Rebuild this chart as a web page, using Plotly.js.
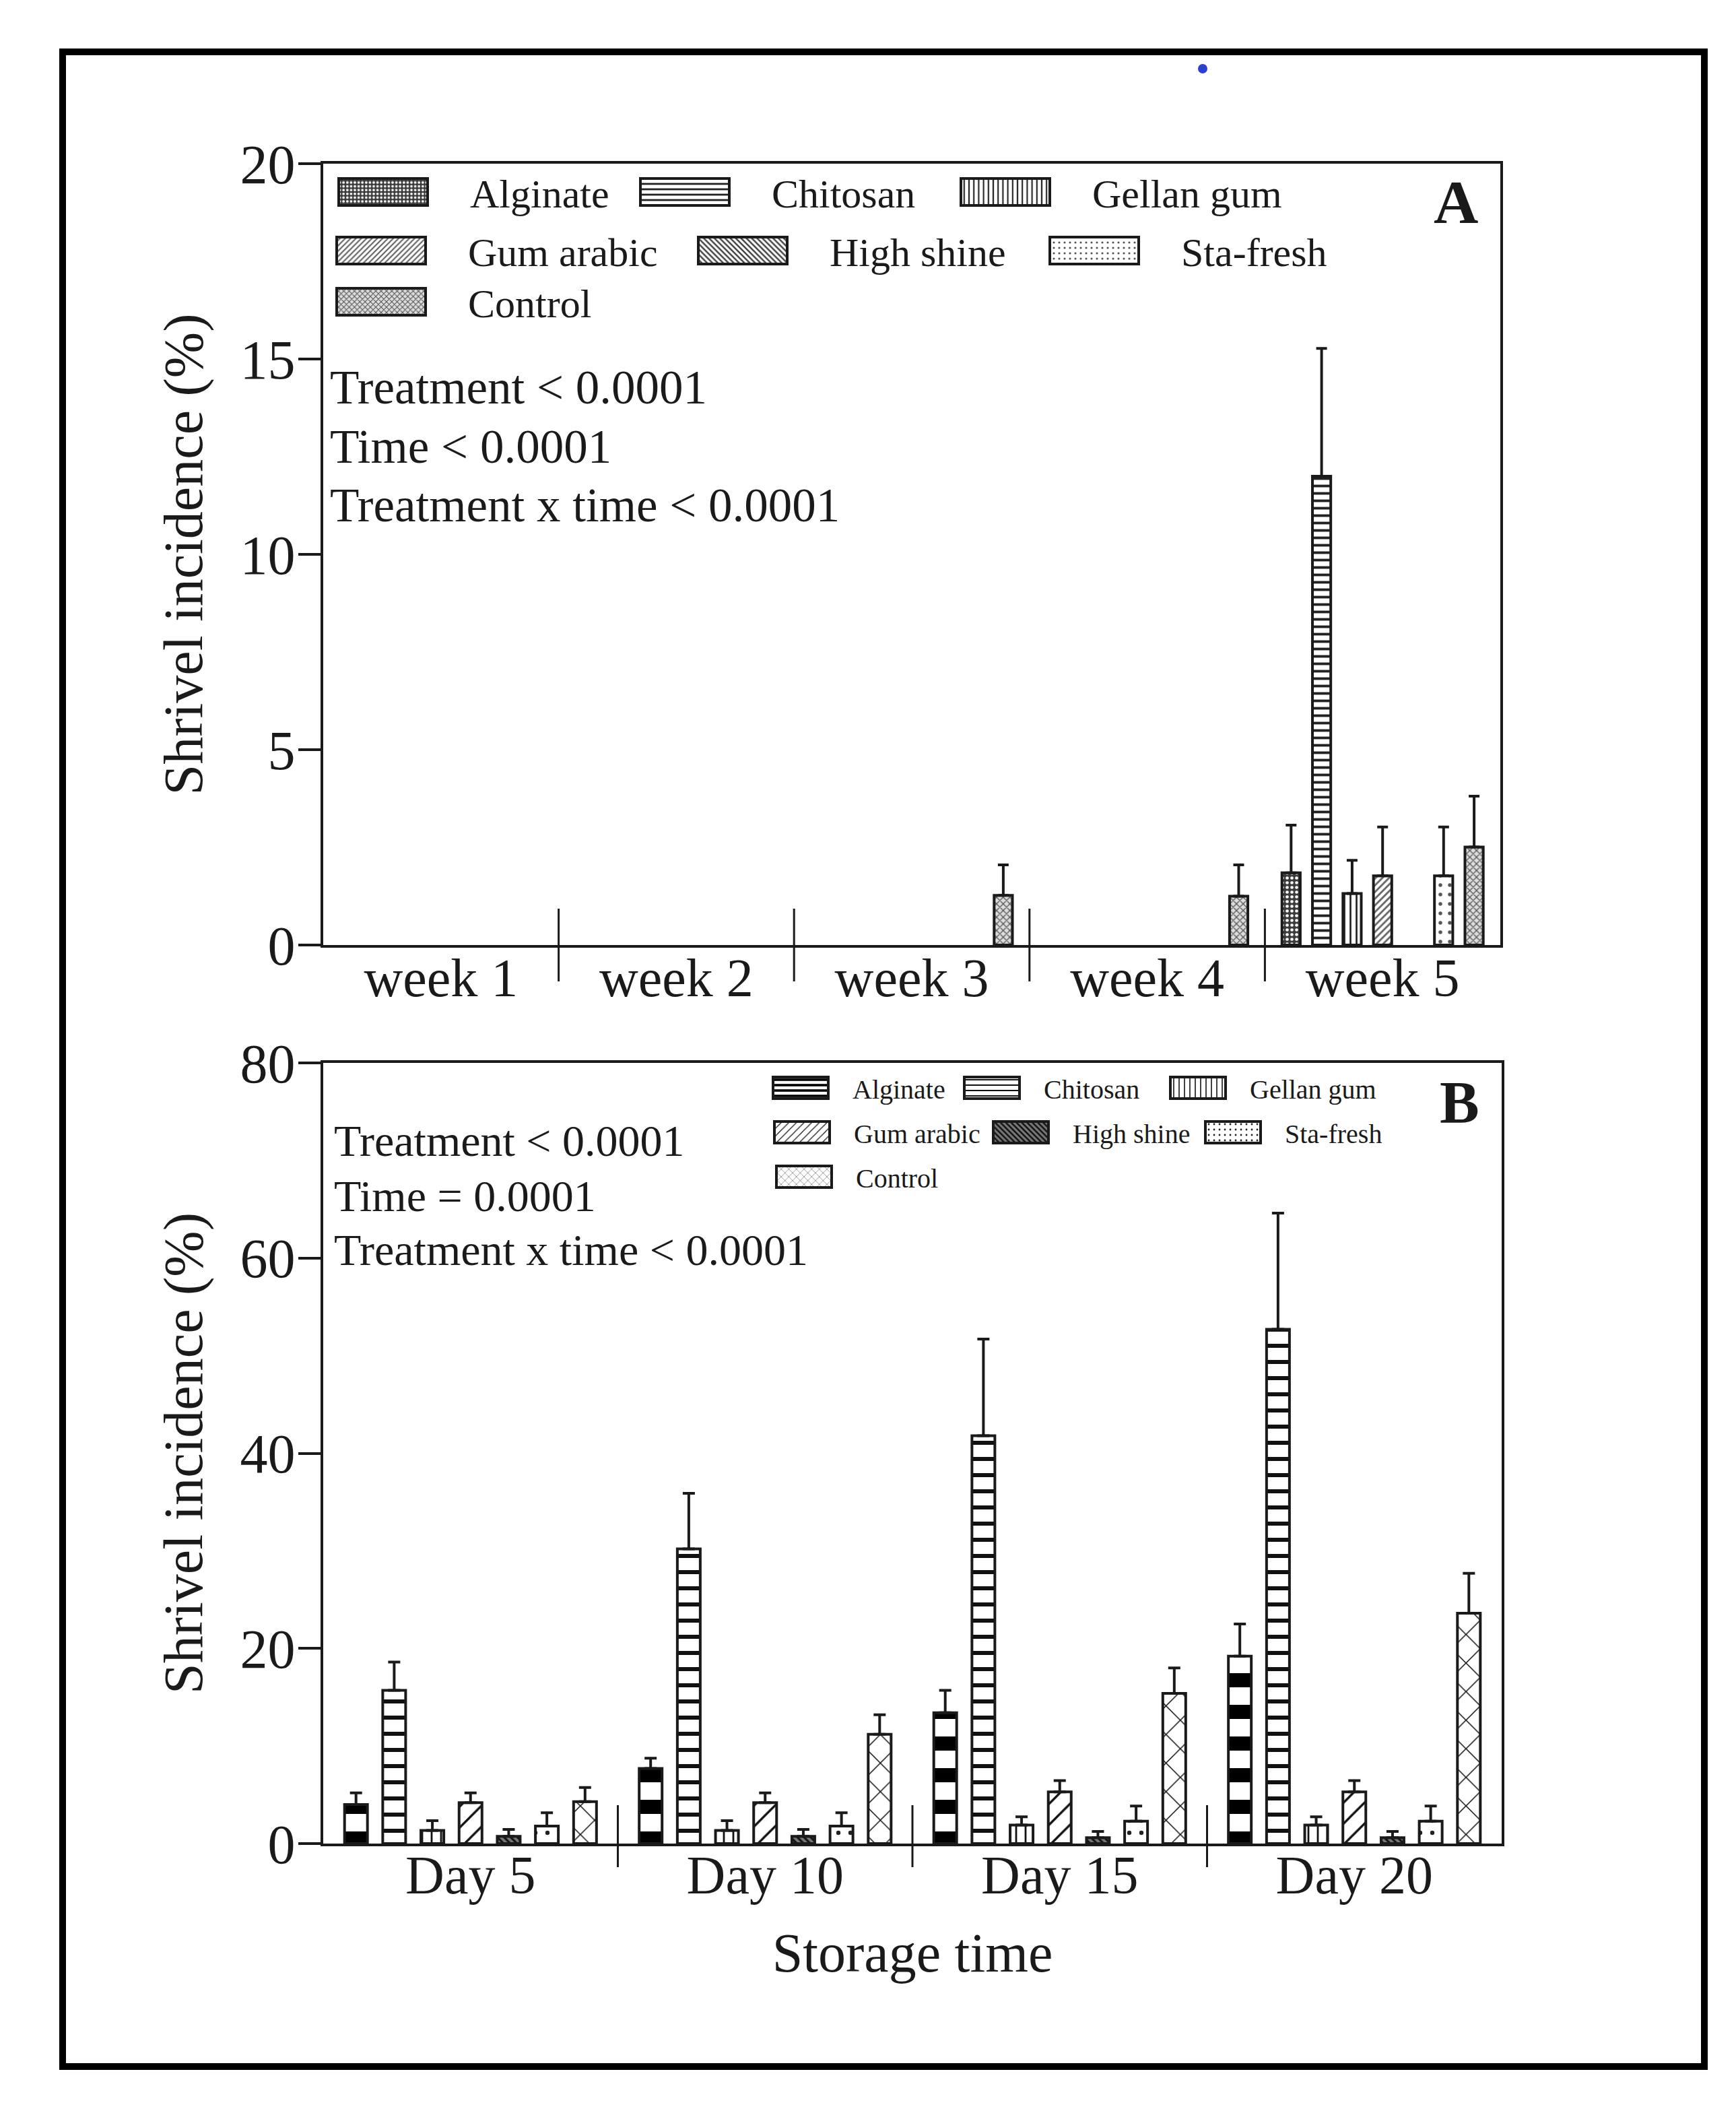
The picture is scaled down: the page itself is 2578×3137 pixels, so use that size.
<!DOCTYPE html>
<html>
<head>
<meta charset="utf-8">
<script src="https://cdn.plot.ly/plotly-3.0.1.min.js"></script>
<style>
  html, body { margin: 0; padding: 0; background: #fff; }
  #chart { width: 2578px; height: 3137px; }
</style>
</head>
<body>
<div id="chart"></div>
<script>
// ---------------- DATA ----------------
const treatments = ['Alginate', 'Chitosan', 'Gellan gum', 'Gum arabic', 'High shine', 'Sta-fresh', 'Control'];

// Panel A (weeks)
const weeks = ['week 1', 'week 2', 'week 3', 'week 4', 'week 5'];
const alginateA   = [0, 0, 0, 0, 1.85];
const chitosanA   = [0, 0, 0, 0, 12.0];
const gellanA     = [0, 0, 0, 0, 1.32];
const gumArabicA  = [0, 0, 0, 0, 1.77];
const highShineA  = [0, 0, 0, 0, 0];
const staFreshA   = [0, 0, 0, 0, 1.77];
const controlA    = [0, 0, 1.27, 1.25, 2.51];
const alginateAErr  = [0, 0, 0, 0, 1.22];
const chitosanAErr  = [0, 0, 0, 0, 3.27];
const gellanAErr    = [0, 0, 0, 0, 0.85];
const gumArabicAErr = [0, 0, 0, 0, 1.25];
const highShineAErr = [0, 0, 0, 0, 0];
const staFreshAErr  = [0, 0, 0, 0, 1.25];
const controlAErr   = [0, 0, 0.78, 0.8, 1.3];

// Panel B (days)
const days = ['Day 5', 'Day 10', 'Day 15', 'Day 20'];
const alginateB   = [4.0, 7.7, 13.4, 19.2];
const chitosanB   = [15.7, 30.2, 41.8, 52.7];
const gellanB     = [1.35, 1.35, 1.9, 1.9];
const gumArabicB  = [4.2, 4.2, 5.3, 5.3];
const highShineB  = [0.75, 0.75, 0.6, 0.6];
const staFreshB   = [1.8, 1.8, 2.3, 2.3];
const controlB    = [4.3, 11.2, 15.4, 23.6];
const alginateBErr  = [1.2, 1.05, 2.3, 3.3];
const chitosanBErr  = [2.9, 5.7, 9.9, 11.9];
const gellanBErr    = [1.0, 1.0, 0.85, 0.85];
const gumArabicBErr = [1.0, 1.0, 1.15, 1.15];
const highShineBErr = [0.7, 0.7, 0.65, 0.65];
const staFreshBErr  = [1.35, 1.35, 1.55, 1.55];
const controlBErr   = [1.45, 2.0, 2.6, 4.1];

const statsA = ['Treatment &lt; 0.0001', 'Time &lt; 0.0001', 'Treatment x time &lt; 0.0001'];
const statsB = ['Treatment &lt; 0.0001', 'Time = 0.0001', 'Treatment x time &lt; 0.0001'];

// ---------------- STYLE / LAYOUT ----------------
const W = 2578, H = 3137;
const px = v => v / W;
const py = v => 1 - v / H;
const FONT = 'Liberation Serif, Times New Roman, serif';
const INK = '#1a1a1a';

const valsA = [alginateA, chitosanA, gellanA, gumArabicA, highShineA, staFreshA, controlA];
const errsA = [alginateAErr, chitosanAErr, gellanAErr, gumArabicAErr, highShineAErr, staFreshAErr, controlAErr];
const valsB = [alginateB, chitosanB, gellanB, gumArabicB, highShineB, staFreshB, controlB];
const errsB = [alginateBErr, chitosanBErr, gellanBErr, gumArabicBErr, highShineBErr, staFreshBErr, controlBErr];

const patA = [
  {shape: '.', size: 7, solidity: 0.35, fgcolor: '#ffffff', bgcolor: '#3a3a3a'},
  {shape: '-', size: 11, solidity: 0.35, fgcolor: '#222222', bgcolor: '#ffffff'},
  {shape: '|', size: 9, solidity: 0.3, fgcolor: '#222222', bgcolor: '#ffffff'},
  {shape: '/', size: 7, solidity: 0.4, fgcolor: '#666666', bgcolor: '#ffffff'},
  {shape: '\\', size: 7, solidity: 0.45, fgcolor: '#444444', bgcolor: '#ffffff'},
  {shape: '.', size: 14, solidity: 0.12, fgcolor: '#555555', bgcolor: '#ffffff'},
  {shape: 'x', size: 7, solidity: 0.35, fgcolor: '#555555', bgcolor: '#dddddd'}
];
const patB = [
  {shape: '-', size: 47, solidity: 0.45, fgcolor: '#000000', bgcolor: '#ffffff'},
  {shape: '-', size: 24, solidity: 0.25, fgcolor: '#111111', bgcolor: '#ffffff'},
  {shape: '|', size: 14, solidity: 0.2, fgcolor: '#111111', bgcolor: '#ffffff'},
  {shape: '/', size: 22, solidity: 0.15, fgcolor: '#111111', bgcolor: '#ffffff'},
  {shape: '\\', size: 7, solidity: 0.45, fgcolor: '#111111', bgcolor: '#777777'},
  {shape: '.', size: 18, solidity: 0.1, fgcolor: '#222222', bgcolor: '#ffffff'},
  {shape: 'x', size: 30, solidity: 0.1, fgcolor: '#111111', bgcolor: '#ffffff'}
];

// legend item placement (text left edge, row centre) in page px
const legPosA = [[698, 285], [1146, 285], [1622, 285], [695, 372], [1232, 372], [1754, 372], [695, 448]];
const legPosB = [[1266, 1615], [1550, 1615], [1856, 1615], [1268, 1681], [1593, 1681], [1908, 1681], [1271, 1747]];
const IWA = 248, IWB = 144;

const data = [];
const legends = {};
treatments.forEach((name, i) => {
  const idA = i === 0 ? 'legend' : 'legend' + (i + 1);
  const idB = 'legend' + (i + 8);
  // bars of height 0 are simply not drawn (as in the figure)
  data.push({
    type: 'bar', name: name, x: weeks, y: valsA[i].map(v => v > 0 ? v : null), xaxis: 'x', yaxis: 'y',
    legend: idA, showlegend: true,
    marker: {color: '#ffffff', line: {color: INK, width: 4}, pattern: patA[i]},
    error_y: {type: 'data', symmetric: false, array: errsA[i], arrayminus: weeks.map(() => 0),
              color: INK, thickness: 4, width: 8}
  });
  data.push({
    type: 'bar', name: name, x: days, y: valsB[i], xaxis: 'x2', yaxis: 'y2',
    legend: idB, showlegend: true,
    marker: {color: '#ffffff', line: {color: INK, width: 4}, pattern: patB[i]},
    error_y: {type: 'data', symmetric: false, array: errsB[i], arrayminus: days.map(() => 0),
              color: INK, thickness: 4, width: 9}
  });
  legends[idA] = {
    visible: true,
    x: px(legPosA[i][0] - IWA - 10), xanchor: 'left', y: py(legPosA[i][1]), yanchor: 'middle',
    itemwidth: IWA, font: {family: FONT, size: 60, color: INK}, bgcolor: 'rgba(0,0,0,0)', borderwidth: 0
  };
  legends[idB] = {
    visible: true,
    x: px(legPosB[i][0] - IWB - 10), xanchor: 'left', y: py(legPosB[i][1]), yanchor: 'middle',
    itemwidth: IWB, font: {family: FONT, size: 40, color: INK}, bgcolor: 'rgba(0,0,0,0)', borderwidth: 0
  };
});

const axisLine = {showline: true, linecolor: INK, linewidth: 4, mirror: true, showgrid: false, zeroline: false};

const annotations = [];
statsA.forEach((t, k) => annotations.push({
  xref: 'paper', yref: 'paper', x: px(488), y: py(575 + k * 87.5), xanchor: 'left', yanchor: 'middle',
  text: t, showarrow: false, font: {family: FONT, size: 71, color: INK}
}));
statsB.forEach((t, k) => annotations.push({
  xref: 'paper', yref: 'paper', x: px(494), y: py(1694 + k * 81), xanchor: 'left', yanchor: 'middle',
  text: t, showarrow: false, font: {family: FONT, size: 66, color: INK}
}));
annotations.push({xref: 'paper', yref: 'paper', x: px(2162), y: py(300), xanchor: 'center', yanchor: 'middle',
  text: '<b>A</b>', showarrow: false, font: {family: FONT, size: 92, color: INK}});
annotations.push({xref: 'paper', yref: 'paper', x: px(2167), y: py(1636), xanchor: 'center', yanchor: 'middle',
  text: '<b>B</b>', showarrow: false, font: {family: FONT, size: 88, color: INK}});

const shapes = [];
[0.5, 1.5, 2.5, 3.5].forEach(b => shapes.push({type: 'line', xref: 'x', yref: 'paper',
  x0: b, x1: b, y0: py(1457), y1: py(1349), line: {color: INK, width: 3}}));
[0.5, 1.5, 2.5].forEach(b => shapes.push({type: 'line', xref: 'x2', yref: 'paper',
  x0: b, x1: b, y0: py(2772), y1: py(2680), line: {color: INK, width: 3}}));
shapes.push({type: 'rect', xref: 'paper', yref: 'paper', x0: px(93), x1: px(2531), y0: py(3068), y1: py(77),
  line: {color: '#000000', width: 10}, fillcolor: 'rgba(0,0,0,0)'});
shapes.push({type: 'circle', xref: 'paper', yref: 'paper', x0: px(1779), x1: px(1793), y0: py(109), y1: py(95),
  line: {width: 0}, fillcolor: '#2b3fd4'});

const layout = Object.assign({
  width: W, height: H,
  margin: {l: 0, r: 0, t: 0, b: 0},
  showlegend: true,
  paper_bgcolor: '#ffffff', plot_bgcolor: '#ffffff',
  font: {family: FONT, color: INK},
  barmode: 'group', bargap: 0.093, bargroupgap: 0.4,
  xaxis: Object.assign({}, axisLine, {domain: [px(480), px(2228)], anchor: 'y', type: 'category',
    ticks: '', tickfont: {family: FONT, size: 80, color: INK}, ticklabelstandoff: -24}),
  yaxis: Object.assign({}, axisLine, {domain: [py(1403), py(243)], anchor: 'x', range: [0, 20],
    tickvals: [0, 5, 10, 15, 20], ticks: 'outside', ticklen: 33, tickwidth: 4, tickcolor: INK,
    tickfont: {family: FONT, size: 82, color: INK}, ticklabelstandoff: -12,
    title: {text: 'Shrivel incidence (%)', font: {family: FONT, size: 82, color: INK}, standoff: 30}}),
  xaxis2: Object.assign({}, axisLine, {domain: [px(480), px(2230)], anchor: 'y2', type: 'category',
    ticks: '', tickfont: {family: FONT, size: 80, color: INK}, ticklabelstandoff: -26,
    title: {text: 'Storage time', font: {family: FONT, size: 82, color: INK}, standoff: 44}}),
  yaxis2: Object.assign({}, axisLine, {domain: [py(2737), py(1578)], anchor: 'x2', range: [0, 80],
    tickvals: [0, 20, 40, 60, 80], ticks: 'outside', ticklen: 33, tickwidth: 4, tickcolor: INK,
    tickfont: {family: FONT, size: 82, color: INK}, ticklabelstandoff: -12,
    title: {text: 'Shrivel incidence (%)', font: {family: FONT, size: 82, color: INK}, standoff: 30}}),
  annotations: annotations,
  shapes: shapes
}, legends);

// enlarge the legend swatches to the size used in the figure
function fixSwatches() {
  document.querySelectorAll('g.legendpoints path').forEach(p => {
    if (!p.dataset.panel) {
      const r = p.getBoundingClientRect();
      p.dataset.panel = (r.top + r.height / 2) < 1500 ? 'A' : 'B';
    }
    p.setAttribute('d', p.dataset.panel === 'A' ? 'M66,20H-66V-20H66Z' : 'M41,16H-41V-16H41Z');
  });
}

Plotly.newPlot('chart', data, layout, {staticPlot: true}).then(gd => {
  fixSwatches();
  gd.on && gd.on('plotly_afterplot', fixSwatches);
  setTimeout(fixSwatches, 50);
  setTimeout(fixSwatches, 300);
});
</script>
</body>
</html>
